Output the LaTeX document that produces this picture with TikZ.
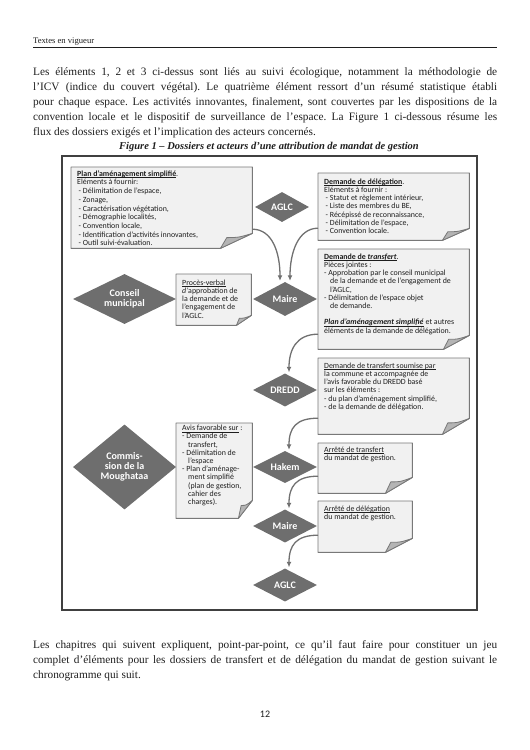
\documentclass[tikz,border=0pt]{standalone}
\usepackage{fontspec}
\setmainfont{Liberation Serif}
\newfontfamily\figfont{Carlito}
\usetikzlibrary{shapes.geometric,arrows.meta,backgrounds}
\frenchspacing
\definecolor{dia}{RGB}{110,110,110}
\definecolor{notefill}{RGB}{241,241,241}
\definecolor{noteline}{RGB}{120,120,120}
\definecolor{flapfill}{RGB}{180,180,180}
\definecolor{arrowc}{RGB}{112,112,112}
\definecolor{ink}{RGB}{30,30,30}
\tikzset{
  dianode/.style={diamond, aspect=1.6, fill=dia, draw=none, inner sep=0pt, text=white,
    font=\figfont\bfseries\fontsize{10}{10}\selectfont, align=center},
  notebox/.style={inner xsep=6pt, inner ysep=0pt, anchor=north west,
    font=\figfont\fontsize{7.9}{8.2}\selectfont, text=ink},
  flow/.style={draw=arrowc, line width=1.3pt, -{Latex[length=5.5pt,width=5pt]}},
  bodytext/.style={anchor=base west, inner sep=0pt, font=\fontsize{11.3}{15}\selectfont, text=ink},
}
\newcommand\lin[1]{\mbox{#1}\par}
\newcommand\dsh{\hspace*{1.5pt}- }
\newcommand\cnt{\hspace*{6pt}}
\newcommand\ul[1]{\setbox0=\hbox{#1}\rlap{\rule[-1.3pt]{\wd0}{0.45pt}}\box0\relax}
\newcommand\mknote[6]{%
  \node[notebox] (#1) at (#2,#3) {\parbox[c][#5pt][t]{\dimexpr #4pt - 12pt\relax}{#6}};}
\newcommand\mkfold[3]{%
  \filldraw[fill=notefill, draw=noteline, line width=0.9pt, line join=round]
    (#1.north west) -- (#1.north east) -- ([yshift=#3pt]#1.south east)
    -- ([xshift=-#2pt]#1.south east) -- (#1.south west) -- cycle;
  \filldraw[fill=flapfill, draw=noteline, line width=0.8pt, line join=round]
    ([xshift=-#2pt]#1.south east)
    .. controls ([xshift={-0.92*#2pt},yshift={0.35*#3pt}]#1.south east)
    .. ([xshift={-0.8*#2pt},yshift={0.72*#3pt}]#1.south east)
    .. controls ([xshift={-0.45*#2pt},yshift={0.72*#3pt}]#1.south east)
    .. ([yshift=#3pt]#1.south east) -- cycle;}
\begin{document}
\begin{tikzpicture}[x=1pt,y=-1pt]
\useasboundingbox (0,0) rectangle (530,750);

% page header
\node[anchor=base west, inner sep=0pt, font=\fontsize{8.6}{10}\selectfont, text=ink] (hdr) at (33,43) {Textes en vigueur};
\draw[line width=0.8pt, draw=ink] (33,47) -- (497,47);

% first paragraph
\node[bodytext] (p1) at (33,75) {\makebox[464pt][s]{Les éléments 1, 2 et 3 ci-dessus sont liés au suivi écologique, notamment la méthodologie de}};
\node[bodytext] (p2) at (33,90) {\makebox[464pt][s]{l’ICV (indice du couvert végétal). Le quatrième élément ressort d’un résumé statistique établi}};
\node[bodytext] (p3) at (33,105) {\makebox[464pt][s]{pour chaque espace. Les activités innovantes, finalement, sont couvertes par les dispositions de la}};
\node[bodytext] (p4) at (33,120) {\makebox[464pt][s]{convention locale et le dispositif de surveillance de l’espace. La Figure 1 ci-dessous résume les}};
\node[bodytext] (p5) at (33,135) {flux des dossiers exigés et l’implication des acteurs concernés.};

% figure title
\node[anchor=base, inner sep=0pt, font=\bfseries\itshape\fontsize{10.5}{12}\selectfont, text=ink] (title) at (269,149) {Figure 1 – Dossiers et acteurs d’une attribution de mandat de gestion};

% frame
\draw[line width=1.1pt, draw=black!75] (62,156) rectangle (477,610);

% diamonds
\node[dianode, minimum width=54pt, minimum height=30pt] (aglc1) at (282,207) {AGLC};
\node[dianode, minimum width=64pt, minimum height=34pt] (maire1) at (285,299) {Maire};
\node[dianode, minimum width=64pt, minimum height=33pt] (dredd) at (285,390) {DREDD};
\node[dianode, minimum width=64pt, minimum height=32pt] (hakem) at (285,467) {Hakem};
\node[dianode, minimum width=64pt, minimum height=33pt] (maire2) at (285,526) {Maire};
\node[dianode, minimum width=64pt, minimum height=33pt] (aglc2) at (285,585) {AGLC};
\node[dianode, minimum width=103pt, minimum height=50pt] (conseil) at (124.5,299) {Conseil\\municipal};
\node[dianode, minimum width=103pt, minimum height=85pt] (commission) at (124.5,467) {Commis-\\sion de la\\Moughataa};

% notes
\mknote{b1}{71}{167}{181}{81}{\fontsize{7.9}{8.7}\selectfont
\lin{\rule{0pt}{9pt}\ul{\textbf{Plan d’aménagement simplifié}}.}
\lin{Eléments à fournir:}
\lin{\dsh Délimitation de l’espace,}
\lin{\dsh Zonage,}
\lin{\dsh Caractérisation végétation,}
\lin{\dsh Démographie localités,}
\lin{\dsh Convention locale,}
\lin{\dsh Identification d’activités innovantes,}
\lin{\dsh Outil suivi-évaluation.}}

\mknote{b2}{318}{173}{151}{67}{%
\lin{\rule{0pt}{11pt}\ul{\textbf{Demande de délégation}}.}
\lin{Eléments à fournir :}
\lin{\dsh Statut et règlement intérieur,}
\lin{\dsh Liste des membres du BE,}
\lin{\dsh Récépissé de reconnaissance,}
\lin{\dsh Délimitation de l’espace,}
\lin{\dsh Convention locale.}}

\mknote{b3}{318}{249}{151}{100}{%
\lin{\rule{0pt}{10pt}\ul{\textbf{Demande de \textit{transfert}}}.}
\lin{Pièces jointes :}
\lin{- Approbation par le conseil municipal}
\lin{\cnt de la demande et de l’engagement de}
\lin{\cnt l’AGLC,}
\lin{- Délimitation de l’espace objet}
\lin{\cnt de demande.}
\lin{}
\lin{\ul{\textbf{\textit{Plan d’aménagement simplifié}}} et autres}
\lin{éléments de la demande de délégation.}}

\mknote{b4}{318}{358}{151}{76}{%
\lin{\rule{0pt}{10pt}\ul{Demande de transfert soumise par}}
\lin{la commune et accompagnée de}
\lin{l’avis favorable du DREDD basé}
\lin{sur les éléments :}
\lin{- du plan d’aménagement simplifié,}
\lin{- de la demande de délégation.}}

\mknote{b5}{318}{443}{94}{50}{%
\lin{\rule{0pt}{9pt}\ul{Arrêté de transfert}}
\lin{du mandat de gestion.}}

\mknote{b6}{318}{501}{94}{51}{%
\lin{\rule{0pt}{10pt}\ul{Arrêté de délégation}}
\lin{du mandat de gestion.}}

\mknote{b7}{176}{274}{75}{51}{%
\lin{\rule{0pt}{11pt}\ul{Procès-verbal}}
\lin{\textit{d’}approbation de}
\lin{la demande et de}
\lin{l’engagement de}
\lin{l’AGLC.}}

\mknote{b8}{176}{423}{76}{95}{%
\lin{\rule{0pt}{7.5pt}\ul{Avis favorable sur} :}
\lin{- Demande de}
\lin{\cnt transfert,}
\lin{- Délimitation de}
\lin{\cnt l’espace}
\lin{- Plan d’aménage-}
\lin{\cnt ment simplifié}
\lin{\cnt (plan de gestion,}
\lin{\cnt cahier des}
\lin{\cnt charges).}}

\begin{scope}[on background layer]
\mkfold{b1}{32}{15}
\mkfold{b2}{27}{12}
\mkfold{b3}{26}{14}
\mkfold{b4}{27}{16}
\mkfold{b5}{27}{16}
\mkfold{b6}{27}{14}
\mkfold{b7}{15}{10}
\mkfold{b8}{14}{18}
\end{scope}

% connectors
\draw[flow] ([yshift=-21.5pt]b1.east) .. controls +(20,0) and +(0,-28) .. ([xshift=-5pt,yshift=1pt]maire1.north);
\draw[flow] ([yshift=-21.5pt]b2.west) .. controls +(-20,0) and +(0,-28) .. ([xshift=5pt,yshift=1pt]maire1.north);
\draw[flow] ([yshift=-35pt]b3.west) .. controls +(-22,0) and +(0,-22) .. ([xshift=4pt,yshift=1pt]dredd.north);
\draw[flow] ([yshift=-22pt]b4.west) .. controls +(-22,0) and +(0,-22) .. ([xshift=4pt,yshift=1pt]hakem.north);
\draw[flow] ([yshift=-8pt]b5.west) .. controls +(-22,0) and +(0,-22) .. ([xshift=4pt,yshift=1pt]maire2.north);
\draw[flow] ([yshift=-8.5pt]b6.west) .. controls +(-22,0) and +(0,-22) .. ([xshift=4pt,yshift=1pt]aglc2.north);

% closing paragraph
\node[bodytext] (q1) at (33,648) {\makebox[464pt][s]{Les chapitres qui suivent expliquent, point-par-point, ce qu’il faut faire pour constituer un jeu}};
\node[bodytext] (q2) at (33,663) {\makebox[464pt][s]{complet d’éléments pour les dossiers de transfert et de délégation du mandat de gestion suivant le}};
\node[bodytext] (q3) at (33,678) {chronogramme qui suit.};

\node[anchor=base, inner sep=0pt, font=\figfont\fontsize{10}{12}\selectfont, text=ink] (pnum) at (265,717) {12};
\end{tikzpicture}
\end{document}
